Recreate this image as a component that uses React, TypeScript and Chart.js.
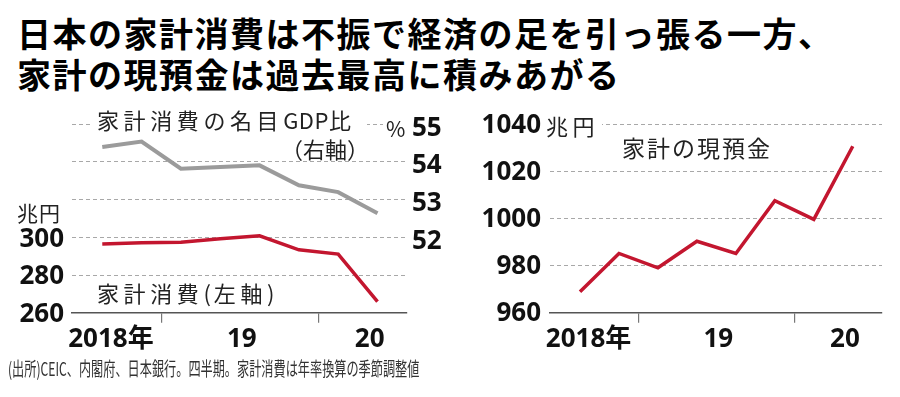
import React, { useEffect, useRef } from 'react';
import { Chart, registerables } from 'chart.js';

Chart.register(...registerables);

// ---- data ----
const quarters = ['2018Q3', '2018Q4', '2019Q1', '2019Q2', '2019Q3', '2019Q4', '2020Q1', '2020Q2'];
const consumption = [296.5, 297.1, 297.4, 299.2, 300.8, 293.4, 291.1, 265.9]; // 兆円 (左軸)
const consumptionGdpRatio = [54.4, 54.54, 53.82, 53.87, 53.91, 53.38, 53.2, 52.64]; // % (右軸)
const cashDeposits = [968.9, 985.2, 979.1, 990.4, 985.2, 1007.6, 999.7, 1030.8]; // 兆円
const yearLabels = ['2018年', '19', '20'];
const consumptionTicks = [260, 280, 300];
const ratioTicks = [52, 53, 54, 55];
const depositTicks = [960, 980, 1000, 1020, 1040];

// ---- layout constants ----
const YEAR_LABEL_AT = [0.22, 3.55, 6.8];
const YEAR_BOUNDARY_AT = [1.5, 5.5];
const NUM_FONT = '"Noto Sans", "Noto Sans CJK JP", sans-serif';
const JP_FONT = '"Noto Sans CJK JP", sans-serif';
const GRID_COLOR = '#a8a8a8';
const RED = '#c3162f';
const GRAY = '#9b9b9b';

const toPoints = (arr: number[]) => arr.map((v, i) => ({ x: i, y: v }));

function xAxis() {
  return {
    type: 'linear',
    min: -0.77,
    max: 7.75,
    afterBuildTicks: (s: any) => {
      s.ticks = [...YEAR_LABEL_AT, ...YEAR_BOUNDARY_AT].sort((a, b) => a - b).map((v) => ({ value: v }));
    },
    afterFit: (s: any) => {
      s.height = 47.3;
    },
    ticks: {
      autoSkip: false,
      maxRotation: 0,
      padding: 1,
      color: '#111',
      font: { family: NUM_FONT, size: 26, weight: 'bold' },
      callback: (v: number) => {
        const i = YEAR_LABEL_AT.indexOf(v);
        return i >= 0 ? yearLabels[i] : '';
      },
    },
    grid: {
      display: true,
      drawOnChartArea: false,
      drawTicks: true,
      tickLength: 10,
      lineWidth: 1.2,
      color: (ctx: any) => (ctx.tick && YEAR_BOUNDARY_AT.includes(ctx.tick.value) ? '#777' : 'rgba(0,0,0,0)'),
    },
    border: { display: true, color: '#555', width: 1.5 },
  };
}

// segments: [text, letterSpacing]
function drawLabel(
  ctx: CanvasRenderingContext2D,
  segments: [string, number][],
  x: number,
  y: number,
  size: number,
  bg?: [number, number, number, number]
) {
  ctx.save();
  if (bg) {
    ctx.fillStyle = '#fff';
    ctx.fillRect(bg[0], bg[1], bg[2], bg[3]);
  }
  ctx.font = `${size}px ${JP_FONT}`;
  ctx.fillStyle = '#222';
  ctx.textAlign = 'left';
  ctx.textBaseline = 'middle';
  let cx = x;
  for (const [text, spacing] of segments) {
    (ctx as any).letterSpacing = `${spacing}px`;
    ctx.fillText(text, cx, y);
    cx += ctx.measureText(text).width;
  }
  ctx.restore();
}

const leftLabels = {
  id: 'leftLabels',
  beforeDatasetsDraw(chart: any) {
    const { ctx, chartArea } = chart;
    const L = chartArea.left;
    const T = chartArea.top;
    drawLabel(
      ctx,
      [
        ['家計消費の名目', 4.6],
        ['GDP', 0.5],
        ['比', 0],
      ],
      L + 25,
      T - 3.5,
      22,
      [L + 20, T - 16, 275, 26]
    );
    drawLabel(ctx, [['（右軸）', 0]], L + 209, T + 25, 22);
    drawLabel(ctx, [['%', 0]], L + 314, T + 5, 21, [L + 311, T - 10, 25, 24]);
    drawLabel(
      ctx,
      [
        ['家計消費', 4.6],
        ['(', 3],
        ['左軸', 4.6],
        [')', 0],
      ],
      L + 25,
      T + 169,
      22
    );
    drawLabel(ctx, [['兆円', 1]], 17, T + 89, 21);
  },
};

const rightLabels = {
  id: 'rightLabels',
  beforeDatasetsDraw(chart: any) {
    const { ctx, chartArea } = chart;
    const L = chartArea.left;
    const T = chartArea.top;
    drawLabel(ctx, [['兆円', 4.5]], L - 4, T + 2, 22, [L - 6, T - 11, 58, 24]);
    drawLabel(ctx, [['家計の現預金', 2]], L + 72, T + 24, 23);
  },
};

function yAxisCommon(
  ticksAll: number[],
  shown: number[],
  width: number,
  position: string,
  padding: number,
  labelOffset: number,
  grid: boolean
) {
  return {
    position,
    min: ticksAll[0],
    max: ticksAll[ticksAll.length - 1],
    afterBuildTicks: (s: any) => {
      s.ticks = ticksAll.map((v) => ({ value: v }));
    },
    afterFit: (s: any) => {
      s.width = width;
    },
    ticks: {
      padding,
      labelOffset,
      color: '#111',
      font: { family: NUM_FONT, size: 26, weight: 'bold' },
      callback: (v: number) => (shown.includes(v) ? String(v) : ''),
    },
    grid: grid
      ? {
          display: true,
          drawTicks: false,
          lineWidth: 1,
          color: (ctx: any) => (ctx.tick && ctx.tick.value === ticksAll[0] ? 'rgba(0,0,0,0)' : GRID_COLOR),
        }
      : { display: false, drawTicks: false },
    border: { display: false, dash: [4, 3] },
  };
}

export default function App() {
  const leftRef = useRef<HTMLCanvasElement>(null);
  const rightRef = useRef<HTMLCanvasElement>(null);

  useEffect(() => {
    const left = new Chart(leftRef.current as HTMLCanvasElement, {
      type: 'line',
      data: {
        labels: quarters,
        datasets: [
          {
            label: '家計消費の名目GDP比',
            data: toPoints(consumptionGdpRatio),
            yAxisID: 'y1',
            borderColor: GRAY,
            borderWidth: 4,
            pointRadius: 0,
            tension: 0,
          },
          {
            label: '家計消費',
            data: toPoints(consumption),
            yAxisID: 'y',
            borderColor: RED,
            borderWidth: 3.5,
            pointRadius: 0,
            tension: 0,
          },
        ],
      },
      options: {
        responsive: false,
        animation: false,
        events: [],
        layout: { padding: { top: 24.3, left: 0, right: 0, bottom: 0 } },
        plugins: { legend: { display: false }, tooltip: { enabled: false } },
        scales: {
          x: xAxis() as any,
          y: yAxisCommon([260, 280, 300, 320, 340, 360], consumptionTicks, 72, 'left', 8, 2, true) as any,
          y1: yAxisCommon([50, 51, 52, 53, 54, 55], ratioTicks, 43, 'right', 5, 4, false) as any,
        },
      },
      plugins: [leftLabels],
    });

    const right = new Chart(rightRef.current as HTMLCanvasElement, {
      type: 'line',
      data: {
        labels: quarters,
        datasets: [
          {
            label: '家計の現預金',
            data: toPoints(cashDeposits),
            borderColor: RED,
            borderWidth: 3.5,
            pointRadius: 0,
            tension: 0,
          },
        ],
      },
      options: {
        responsive: false,
        animation: false,
        events: [],
        layout: { padding: { top: 24.3, left: 0, right: 18, bottom: 0 } },
        plugins: { legend: { display: false }, tooltip: { enabled: false } },
        scales: {
          x: xAxis() as any,
          y: yAxisCommon(depositTicks, depositTicks, 100, 'left', 9, 1, true) as any,
        },
      },
      plugins: [rightLabels],
    });

    return () => {
      left.destroy();
      right.destroy();
    };
  }, []);

  return (
    <div
      style={{
        position: 'fixed',
        left: 0,
        top: 0,
        width: 900,
        height: 397,
        background: '#fff',
        overflow: 'hidden',
      }}
    >
      <div
        style={{
          position: 'absolute',
          left: 17,
          top: 12,
          fontFamily: JP_FONT,
          fontWeight: 'bold',
          fontSize: 34,
          lineHeight: '41px',
          letterSpacing: '1.5px',
          color: '#000',
          whiteSpace: 'nowrap',
        }}
      >
        日本の家計消費は不振で経済の足を引っ張る一方、
        <br />
        家計の現預金は過去最高に積みあがる
      </div>
      <div style={{ position: 'absolute', left: 0, top: 100, width: 450, height: 260 }}>
        <canvas ref={leftRef} width={450} height={260} style={{ display: 'block' }} />
      </div>
      <div style={{ position: 'absolute', left: 450, top: 100, width: 450, height: 260 }}>
        <canvas ref={rightRef} width={450} height={260} style={{ display: 'block' }} />
      </div>
      <div
        style={{
          position: 'absolute',
          left: 8,
          top: 357,
          fontFamily: JP_FONT,
          fontSize: 19,
          lineHeight: '22px',
          color: '#333',
          whiteSpace: 'nowrap',
          transform: 'scaleX(0.64)',
          transformOrigin: 'left center',
        }}
      >
        (出所)CEIC、内閣府、日本銀行。四半期。家計消費は年率換算の季節調整値
      </div>
    </div>
  );
}
